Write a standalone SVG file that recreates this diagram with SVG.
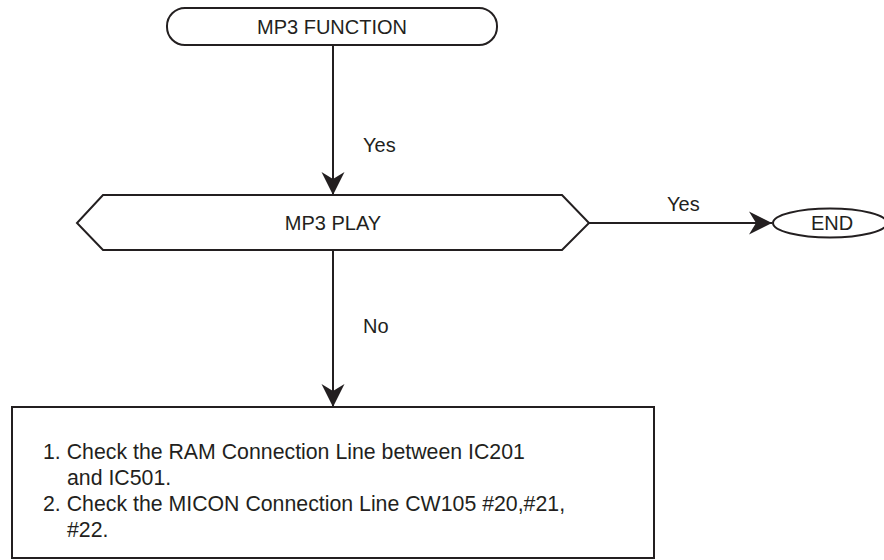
<svg xmlns="http://www.w3.org/2000/svg" width="884" height="560" viewBox="0 0 884 560">
<defs>
<style>
.s{fill:#fff;stroke:#231f20;stroke-width:2}
.l{fill:none;stroke:#231f20;stroke-width:2}
.t{font-family:"Liberation Sans",Arial,sans-serif;font-size:20px;fill:#231f20}
.b{font-size:21.3px}
.c{text-anchor:middle}
</style>
<marker id="ah" viewBox="0 0 24 24" markerWidth="24" markerHeight="24" refX="23" refY="12" orient="auto" markerUnits="userSpaceOnUse">
<path d="M23,12 L0,0.5 L7,12 L0,23.5 Z" fill="#231f20"/>
</marker>
</defs>
<rect width="884" height="560" fill="#fff"/>
<g id="connectors">
<line class="l" x1="333" y1="45" x2="333" y2="195" marker-end="url(#ah)"/>
<line class="l" x1="333" y1="250" x2="333" y2="407" marker-end="url(#ah)"/>
<line class="l" x1="589" y1="223" x2="772" y2="223" marker-end="url(#ah)"/>
<text class="t" x="363" y="152">Yes</text>
<text class="t" x="363" y="333">No</text>
<text class="t" x="667" y="211">Yes</text>
</g>
<g id="start">
<rect class="s" x="167" y="8" width="330" height="37" rx="18" ry="18"/>
<text class="t c" x="332" y="34">MP3 FUNCTION</text>
</g>
<g id="decision">
<polygon class="s" points="103,195 562,195 589,223 562,250 103,250 77,223"/>
<text class="t c" x="333" y="230">MP3 PLAY</text>
</g>
<g id="end">
<ellipse class="s" cx="830" cy="223" rx="57" ry="14.5"/>
<text class="t c" x="832" y="230">END</text>
</g>
<g id="check">
<rect class="s" x="12" y="407" width="642" height="151"/>
<text class="t b" x="43" y="459">1. Check the RAM Connection Line between IC201</text>
<text class="t b" x="67" y="485">and IC501.</text>
<text class="t b" x="43" y="511">2. Check the MICON Connection Line CW105 #20,#21,</text>
<text class="t b" x="67" y="537">#22.</text>
</g>
</svg>
